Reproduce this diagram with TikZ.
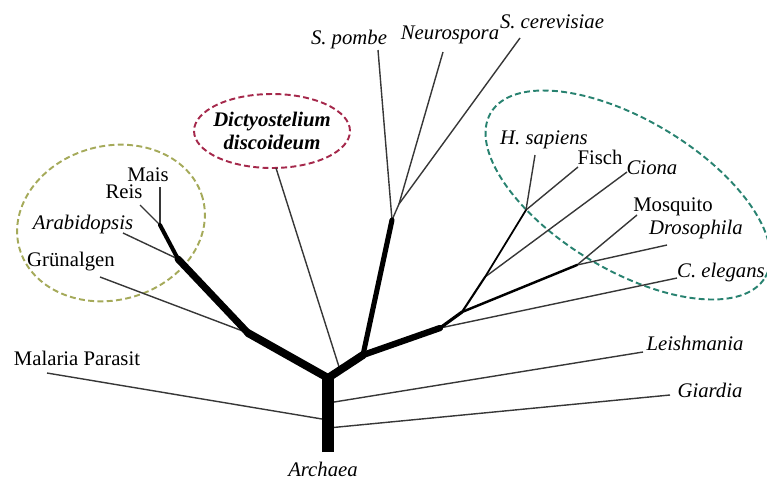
\documentclass[tikz,border=0pt]{standalone}
\usepackage{fontspec}
\setmainfont{Liberation Serif}
\usepackage{xcolor}
\usepackage{tikz}
\definecolor{corOliva}{RGB}{165, 170, 90}
\definecolor{corVinho}{RGB}{165, 40, 75}
\definecolor{corTeal}{RGB}{40, 130, 112}
\definecolor{corRamo}{RGB}{55, 55, 55}

\begin{document}
\begin{tikzpicture}[
    x=0.02cm, y=-0.02cm,
    blatt/.style={draw=corRamo, line width=0.8pt},
    ast/.style={draw=black, line cap=round, line join=round},
    art/.style={font=\fontsize{11.8}{13}\selectfont\itshape, inner sep=0pt},
    nom/.style={font=\fontsize{11.8}{13}\selectfont, inner sep=0pt},
    gruppe/.style={line width=1.1pt, dash pattern=on 3.4pt off 1.9pt}
]

\useasboundingbox (0,0) rectangle (767,484);

\coordinate (basis) at (328,452);
\coordinate (wurzel) at (328,378);
\coordinate (pGabel) at (248,333);
\coordinate (pflanze) at (178,259);
\coordinate (gras) at (160,225);
\coordinate (opis) at (363,355);
\coordinate (pilz) at (392,220);
\coordinate (asco) at (399,204);
\coordinate (tier) at (440,328);
\coordinate (bilat) at (462,312);
\coordinate (chord) at (485,277);
\coordinate (wirbel) at (526,210);
\coordinate (insekt) at (577,265);
\coordinate (dFuss) at (340,370);
\coordinate (mFuss) at (328,420);
\coordinate (lFuss) at (328,403);
\coordinate (gFuss) at (328,428);

\coordinate (tMais) at (160,187);
\coordinate (tReis) at (140,205);
\coordinate (tArab) at (123,233);
\coordinate (tGruen) at (100,277);
\coordinate (tMal) at (47,373);
\coordinate (tDicty) at (276,168);
\coordinate (tPombe) at (378,50);
\coordinate (tNeuro) at (443,52);
\coordinate (tCerev) at (520,38);
\coordinate (tSap) at (535,155);
\coordinate (tFisch) at (578,167);
\coordinate (tCiona) at (627,172);
\coordinate (tMosq) at (637,215);
\coordinate (tDros) at (667,245);
\coordinate (tEleg) at (677,278);
\coordinate (tLeish) at (643,352);
\coordinate (tGiard) at (670,395);

\draw[gruppe, draw=corOliva] (111,223) ellipse [x radius=1.9cm, y radius=1.54cm, rotate=15];
\draw[gruppe, draw=corTeal] (628,195) ellipse [x radius=3.2cm, y radius=1.5cm, rotate=-31];

\node[art, font=\fontsize{11.8}{13.5}\selectfont\bfseries\itshape, align=center] (dicty) at (272,131)
    {Dictyostelium\\discoideum};
\draw[gruppe, draw=corVinho] (dicty.center) ellipse [x radius=1.56cm, y radius=0.74cm];

\node[nom] (mais) at (148,175) {Mais};
\node[nom] (reis) at (124,192) {Reis};
\node[art] (arab) at (83,225) {Arabidopsis};
\node[nom] (gruen) at (71,262) {Grünalgen};
\node[nom] (malaria) at (77,358) {Malaria Parasit};
\node[art] (pombe) at (349,40) {S. pombe};
\node[art] (neuro) at (450,35) {Neurospora};
\node[art] (cerev) at (552,22) {S. cerevisiae};
\node[art] (sapiens) at (544,140) {H. sapiens};
\node[nom] (fisch) at (600,157) {Fisch};
\node[art] (ciona) at (652,168) {Ciona};
\node[nom] (mosquito) at (673,207) {Mosquito};
\node[art] (dros) at (696,230) {Drosophila};
\node[art] (elegans) at (721,273) {C. elegans};
\node[art] (leish) at (695,343) {Leishmania};
\node[art] (giardia) at (710,390) {Giardia};
\node[art] (archaea) at (323,469) {Archaea};

\draw[blatt] (tMais) -- (gras);
\draw[blatt] (tReis) -- (gras);
\draw[blatt] (tArab) -- (pflanze);
\draw[blatt] (tGruen) -- (pGabel);
\draw[blatt] (tMal) -- (mFuss);
\draw[blatt] (tDicty) -- (dFuss);
\draw[blatt] (tPombe) -- (pilz);
\draw[blatt] (tNeuro) -- (asco);
\draw[blatt] (tCerev) -- (asco);
\draw[blatt] (asco) -- (pilz);
\draw[blatt] (tSap) -- (wirbel);
\draw[blatt] (tFisch) -- (wirbel);
\draw[blatt] (tCiona) -- (chord);
\draw[blatt] (tMosq) -- (insekt);
\draw[blatt] (tDros) -- (insekt);
\draw[blatt] (tEleg) -- (tier);
\draw[blatt] (tLeish) -- (lFuss);
\draw[blatt] (tGiard) -- (gFuss);

\draw[ast, line width=1pt] (wirbel) -- (chord);
\draw[ast, line width=1.2pt] (chord) -- (bilat);
\draw[ast, line width=1.4pt] (insekt) -- (bilat);
\draw[ast, line width=1.8pt] (bilat) -- (tier);
\draw[ast, line width=2.3pt] (gras) -- (pflanze);
\draw[ast, line width=4pt] (pflanze) -- (pGabel);
\draw[ast, line width=4.5pt] (pGabel) -- (wurzel);
\draw[ast, line width=2.9pt] (pilz) -- (opis);
\draw[ast, line width=3.6pt] (tier) -- (opis);
\draw[ast, line width=4.5pt] (opis) -- (wurzel);
\draw[ast, line width=6.8pt, line cap=butt] (basis) -- ([yshift=2pt]wurzel);

\end{tikzpicture}
\end{document}
